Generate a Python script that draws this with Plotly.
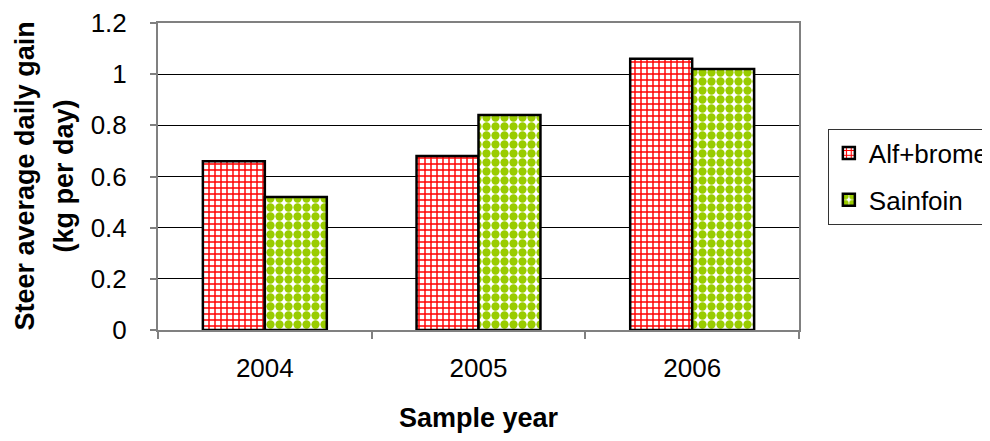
import plotly.graph_objects as go

years = ["2004", "2005", "2006"]
alf_brome = [0.66, 0.68, 1.06]
sainfoin = [0.52, 0.84, 1.02]
y_ticks = [0, 0.2, 0.4, 0.6, 0.8, 1.0, 1.2]
y_tick_labels = ["0", "0.2", "0.4", "0.6", "0.8", "1", "1.2"]
y_title_lines = ["Steer average daily gain", "(kg per day)"]

FONT = "Liberation Sans, Arial, sans-serif"

fig = go.Figure()
fig.add_trace(go.Bar(
    x=years, y=alf_brome, name="Alf+brome", legendgroup="a",
    marker=dict(color="white", line=dict(color="black", width=2.5),
                pattern=dict(shape="+", fgcolor="#FF0000", bgcolor="white",
                             fgopacity=1, size=6, solidity=0.42,
                             fillmode="replace")),
))
fig.add_trace(go.Bar(
    x=years, y=sainfoin, name="Sainfoin", legendgroup="b",
    marker=dict(color="white", line=dict(color="black", width=2.5),
                pattern=dict(shape=".", fgcolor="#99CC00", bgcolor="white",
                             fgopacity=1, size=9, solidity=0.66,
                             fillmode="replace")),
))

fig.update_layout(
    width=982, height=433,
    margin=dict(l=150, r=191, t=15, b=111, autoexpand=False),
    paper_bgcolor="white", plot_bgcolor="white",
    font=dict(family=FONT, size=26, color="black"),
    barmode="group", bargap=0.42, bargroupgap=0,
    showlegend=True,
    legend=dict(x=1.045, xanchor="left", y=0.5, yanchor="middle",
                bordercolor="#333", borderwidth=1, bgcolor="white",
                font=dict(family=FONT, size=26, color="black"),
                traceorder="grouped", tracegroupgap=10),
    xaxis=dict(
        type="category", tickson="boundaries", ticks="outside", ticklen=7,
        tickcolor="#808080", tickwidth=1.5,
        showline=True, linecolor="#808080", linewidth=2, mirror=True,
        showgrid=False, ticklabelstandoff=14,
        tickfont=dict(family=FONT, size=26),
        title=dict(text="<b>Sample year</b>", standoff=26,
                   font=dict(family=FONT, size=27)),
    ),
    yaxis=dict(
        range=[0, 1.2], tickvals=y_ticks, ticktext=y_tick_labels,
        ticks="outside", ticklen=6, tickcolor="#808080", tickwidth=1.5,
        showline=True, linecolor="#808080", linewidth=2, mirror=True,
        showgrid=True, gridcolor="black", gridwidth=1, zeroline=False,
        ticklabelstandoff=18,
        tickfont=dict(family=FONT, size=26),
    ),
)

for txt, shift in zip(y_title_lines, [-134, -95]):
    fig.add_annotation(
        text="<b>" + txt + "</b>", textangle=-90,
        xref="paper", yref="paper", x=0, y=0.5,
        xanchor="center", yanchor="middle", xshift=shift,
        showarrow=False, font=dict(family=FONT, size=27, color="black"),
    )

fig.write_html("out.html")
